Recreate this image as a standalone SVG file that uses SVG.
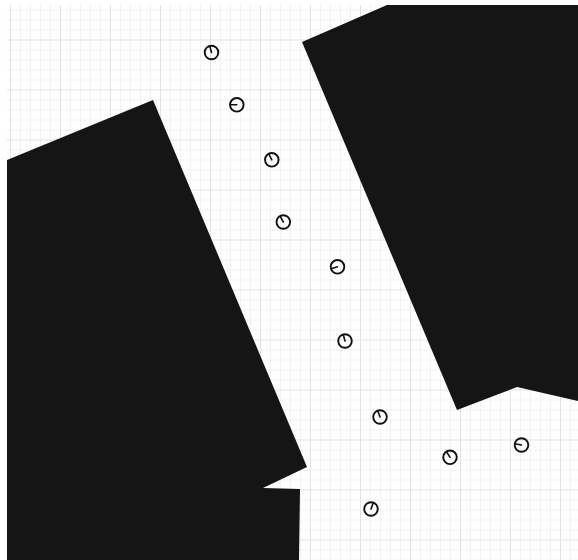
<svg xmlns="http://www.w3.org/2000/svg" width="578" height="560" viewBox="0 0 578 560">
  <defs>
    <pattern id="grid" patternUnits="userSpaceOnUse" x="10" y="-10.5" width="50" height="50">
      <g stroke="#f1f1f1" stroke-width="1">
        <line x1="10.5" y1="0" x2="10.5" y2="50"/>
        <line x1="20.5" y1="0" x2="20.5" y2="50"/>
        <line x1="30.5" y1="0" x2="30.5" y2="50"/>
        <line x1="40.5" y1="0" x2="40.5" y2="50"/>
        <line x1="0" y1="10.5" x2="50" y2="10.5"/>
        <line x1="0" y1="20.5" x2="50" y2="20.5"/>
        <line x1="0" y1="30.5" x2="50" y2="30.5"/>
        <line x1="0" y1="40.5" x2="50" y2="40.5"/>
      </g>
      <g stroke="#e2e2e2" stroke-width="1">
        <line x1="0.5" y1="0" x2="0.5" y2="50"/>
        <line x1="0" y1="0.5" x2="50" y2="0.5"/>
      </g>
    </pattern>
    <style>
      .blk { fill: #151515; }
      .dial circle { fill: none; stroke: #111; stroke-width: 1.9; }
      .dial line { stroke: #111; stroke-width: 1.6; stroke-linecap: round; }
    </style>
  </defs>
  <rect width="578" height="560" fill="#ffffff"/>
  <rect x="7" y="5" width="571" height="555" fill="url(#grid)"/>

  <g id="left-block">
    <polygon class="blk" points="7,160 153,100 307,467 263,488 300,489 299,560 7,560"/>
  </g>
  <g id="right-block">
    <polygon class="blk" points="302,42 387,5 578,5 578,401 517,387 457,410"/>
  </g>

  <g id="dials">
    <g id="d1" class="dial"><circle cx="211.5" cy="52.5" r="6.8"/><line x1="211.5" y1="52.5" x2="210" y2="47"/></g>
    <g id="d2" class="dial"><circle cx="236.8" cy="104.8" r="6.8"/><line x1="236.8" y1="104.8" x2="231" y2="104.8"/></g>
    <g id="d3" class="dial"><circle cx="271.8" cy="159.8" r="6.8"/><line x1="271.8" y1="159.8" x2="269" y2="154.5"/></g>
    <g id="d4" class="dial"><circle cx="283.3" cy="222" r="6.8"/><line x1="283.3" y1="222" x2="280.5" y2="216.8"/></g>
    <g id="d5" class="dial"><circle cx="337.5" cy="266.8" r="6.8"/><line x1="337.5" y1="266.8" x2="332" y2="268.5"/></g>
    <g id="d6" class="dial"><circle cx="345" cy="341" r="6.8"/><line x1="345" y1="341" x2="343.5" y2="335.5"/></g>
    <g id="d7" class="dial"><circle cx="380" cy="417" r="6.8"/><line x1="380" y1="417" x2="378" y2="411.5"/></g>
    <g id="d8" class="dial"><circle cx="450" cy="457.3" r="6.8"/><line x1="450" y1="457.3" x2="447" y2="452.5"/></g>
    <g id="d9" class="dial"><circle cx="521.5" cy="445" r="6.8"/><line x1="521.5" y1="445" x2="516" y2="444"/></g>
    <g id="d10" class="dial"><circle cx="371" cy="509" r="6.8"/><line x1="371" y1="509" x2="373" y2="503.5"/></g>
  </g>
</svg>
